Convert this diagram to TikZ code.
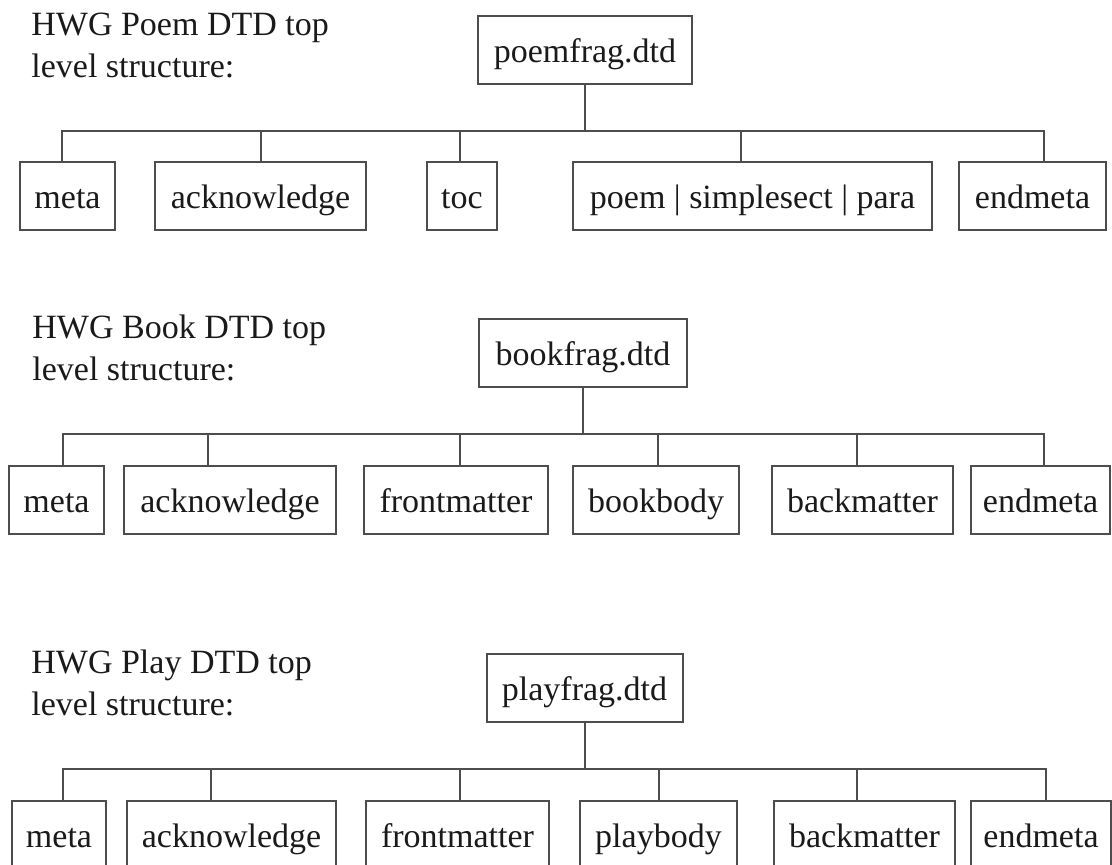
\documentclass[tikz,border=0pt]{standalone}
\usepackage{fontspec}
\setmainfont{Liberation Serif}
\usetikzlibrary{calc,positioning}
\definecolor{hwgInk} {HTML}{1A1A1A}
\definecolor{hwgRule}{HTML}{4D4D4D}

\tikzset{
  dtdbox/.style={draw=hwgRule,line width=1pt,inner sep=0pt,minimum height=34pt,
                 text height=13.5pt,text depth=1pt,text=hwgInk,
                 font=\fontsize{17}{20.8}\selectfont},
  dtdnote/.style={anchor=north west,inner sep=0pt,align=left,text=hwgInk,
                  font=\fontsize{17}{20.8}\selectfont},
  dtdlink/.style={draw=hwgRule,line width=1pt,line cap=rect}
}

\begin{document}
\begin{tikzpicture}[x=0.5pt,y=-0.5pt]
  \clip (0,0) rectangle (1112,865);
  \fill[white] (0,0) rectangle (1112,865);

  % poem
  \node[dtdnote] (p-note) at (31,12.6) {HWG Poem DTD top\\level structure:};
  \node[dtdbox,minimum width=107pt] (p-root) at (585,50.5) {poemfrag.dtd};
  \coordinate (p-bar) at (0,131);
  \node[dtdbox,minimum width=47.5pt]  (p-meta) at (67.5,196.5) {meta};
  \node[dtdbox,minimum width=105.5pt] (p-ack)  at (260.5,196.5) {acknowledge};
  \node[dtdbox,minimum width=35pt]    (p-toc)  at (462,196.5) {toc};
  \node[dtdbox,minimum width=179.5pt] (p-body) at (752.5,196.5) {poem | simplesect | para};
  \node[dtdbox,minimum width=73.5pt]  (p-end)  at (1032.5,196.5) {endmeta};
  \draw[dtdlink] (p-root.south) -- (p-root.south |- p-bar);
  \draw[dtdlink] ([xshift=-2.75pt]p-meta.north |- p-bar) -- ([xshift=5.75pt]p-end.north |- p-bar);
  \foreach \c/\d in {p-meta/-2.75,p-ack/0,p-toc/-1,p-body/-5.75,p-end/5.75}
    \draw[dtdlink] ([xshift=\d pt]\c.north) -- ([xshift=\d pt]\c.north |- p-bar);

  % book
  \node[dtdnote] (b-note) at (32,314.6) {HWG Book DTD top\\level structure:};
  \node[dtdbox,minimum width=104pt] (b-root) at (583,353) {bookfrag.dtd};
  \coordinate (b-bar) at (0,434);
  \node[dtdbox,minimum width=47.5pt] (b-meta)  at (56.5,499.5) {meta};
  \node[dtdbox,minimum width=106pt]  (b-ack)   at (230,499.5) {acknowledge};
  \node[dtdbox,minimum width=92pt]   (b-front) at (456,499.5) {frontmatter};
  \node[dtdbox,minimum width=83pt]   (b-body)  at (656,499.5) {bookbody};
  \node[dtdbox,minimum width=90.5pt] (b-back)  at (862.5,499.5) {backmatter};
  \node[dtdbox,minimum width=69.5pt] (b-end)   at (1040.5,499.5) {endmeta};
  \draw[dtdlink] (b-root.south) -- (b-root.south |- b-bar);
  \draw[dtdlink] ([xshift=3pt]b-meta.north |- b-bar) -- ([xshift=1.75pt]b-end.north |- b-bar);
  \foreach \c/\d in {b-meta/3,b-ack/-11,b-front/2,b-body/0.75,b-back/-2.75,b-end/1.75}
    \draw[dtdlink] ([xshift=\d pt]\c.north) -- ([xshift=\d pt]\c.north |- b-bar);

  % play
  \node[dtdnote] (y-note) at (31,649.6) {HWG Play DTD top\\level structure:};
  \node[dtdbox,minimum width=98pt] (y-root) at (584.5,688) {playfrag.dtd};
  \coordinate (y-bar) at (0,769);
  \node[dtdbox,minimum width=47pt]   (y-meta)  at (59,834.5) {meta};
  \node[dtdbox,minimum width=104.5pt](y-ack)   at (231.5,834.5) {acknowledge};
  \node[dtdbox,minimum width=91.5pt] (y-front) at (457.5,834.5) {frontmatter};
  \node[dtdbox,minimum width=78.5pt] (y-body)  at (658.5,834.5) {playbody};
  \node[dtdbox,minimum width=90.5pt] (y-back)  at (864.5,834.5) {backmatter};
  \node[dtdbox,minimum width=70pt]   (y-end)   at (1041,834.5) {endmeta};
  \draw[dtdlink] (y-root.south) -- (y-root.south |- y-bar);
  \draw[dtdlink] ([xshift=2pt]y-meta.north |- y-bar) -- ([xshift=2.25pt]y-end.north |- y-bar);
  \foreach \c/\d in {y-meta/2,y-ack/-10.25,y-front/1.25,y-body/0.25,y-back/-3.75,y-end/2.25}
    \draw[dtdlink] ([xshift=\d pt]\c.north) -- ([xshift=\d pt]\c.north |- y-bar);
\end{tikzpicture}
\end{document}
